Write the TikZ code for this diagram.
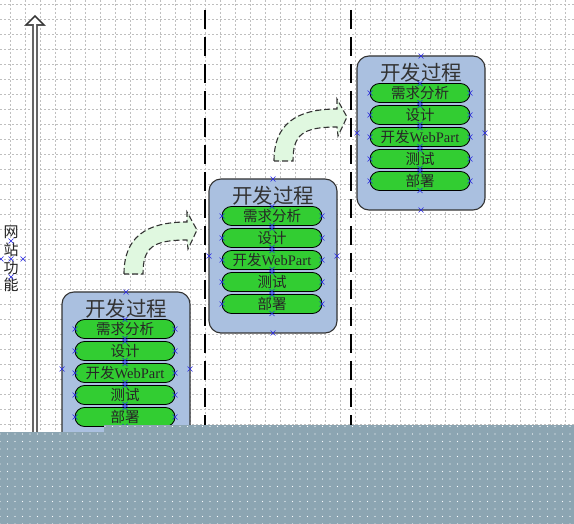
\documentclass[tikz,border=0pt]{standalone}
\usepackage{fontspec}
\setmainfont{Noto Sans CJK SC}
\newfontfamily\latin{Liberation Serif}
\usetikzlibrary{shapes.misc,patterns.meta}
\definecolor{boxc}{RGB}{170,192,224}
\definecolor{pillc}{RGB}{50,205,50}
\definecolor{bandc}{RGB}{140,165,178}
\definecolor{arrc}{RGB}{224,248,224}
\definecolor{mkc}{RGB}{40,40,230}
\tikzset{
  gridl/.style={gray!50, line width=0.5pt, dash pattern=on 2pt off 2pt},
  procbox/.style={draw=black!80, line width=1.1pt, fill=boxc, rounded corners=12pt,
    minimum width=128pt, minimum height=154pt, inner sep=0pt},
  ttl/.style={font=\fontsize{20.5}{20.5}\selectfont, text=black!80, inner sep=0pt},
  pill/.style={rounded rectangle, draw=black, line width=0.8pt, fill=pillc,
    minimum width=100pt, minimum height=19pt, inner sep=0pt,
    font=\fontsize{14.5}{14.5}\selectfont, text=black!85},
  sepline/.style={line width=2.6pt, black, dash pattern=on 19pt off 8pt},
  bendshape/.style={fill=arrc, draw=black!80, line width=1.1pt, dash pattern=on 6pt off 3pt},
  mk/.pic={\draw[mkc, line width=0.7pt] (-2.5pt,-2.5pt)--(2.5pt,2.5pt) (-2.5pt,2.5pt)--(2.5pt,-2.5pt);},
  bendarrow/.pic={\path[bendshape] (0,0) .. controls (0,-36) and (21,-52) .. (63,-52)
      -- (63,-62) -- (73,-44) -- (64,-25) -- (63,-34)
      .. controls (28,-34) and (19,-26) .. (19,0) -- cycle;}
}
\begin{document}
\begin{tikzpicture}[x=1pt,y=-1pt]
\useasboundingbox (0,0) rectangle (574,524);
\fill[white] (0,0) rectangle (574,524);
% grid
\foreach \x in {10,25,...,565} \draw[gridl] (\x,0) -- (\x,524);
\foreach \y in {4,19,...,520} \draw[gridl] (0,\y) -- (574,\y);
% vertical axis arrow
\path[draw=black!60, line width=1.6pt, fill=white] (33,440) -- (33,25) -- (26,25) -- (35,16) -- (44,25) -- (37,25) -- (37,440);
\path[draw=black!80, line width=0.8pt] (33,25) -- (26,25) -- (35,16) -- (44,25) -- (37,25);
\node[align=center, font=\fontsize{15}{17.7}\selectfont, text=black!85, inner sep=0pt] (axl) at (11,259) {网\\站\\功\\能};
% separators
\draw[sepline] (205,10) -- (205,440);
\draw[sepline] (351,10) -- (351,440);
% bent arrows
\pic at (124,274) {bendarrow};
\pic at (274,161) {bendarrow};
% process boxes
\foreach \i/\L/\T in {1/62/292, 2/209/179, 3/357/56}{
  \node[procbox] (b\i) at ({\L+64},{\T+77}) {};
  \node[ttl] (t\i) at ({\L+64},{\T+17}) {开发过程};
  \node[pill] (p\i a) at ({\L+63},{\T+37}) {需求分析};
  \node[pill] (p\i b) at ({\L+63},{\T+59}) {设计};
  \node[pill] (p\i c) at ({\L+63},{\T+81}) {开发{\latin WebPart}};
  \node[pill] (p\i d) at ({\L+63},{\T+103}) {测试};
  \node[pill] (p\i e) at ({\L+63},{\T+125}) {部署};
  \pic at ({\L+64},{\T}) {mk};
  \pic at ({\L+64},{\T+154}) {mk};
  \pic at ({\L},{\T+77}) {mk};
  \pic at ({\L+128},{\T+77}) {mk};
  \foreach \k in {0,...,4}{
    \pic at ({\L+13},{\T+37+22*\k}) {mk};
    \pic at ({\L+113},{\T+37+22*\k}) {mk};
    \pic at ({\L+63},{\T+27.5+22*\k}) {mk};
    \pic at ({\L+63},{\T+46.5+22*\k}) {mk};
  }
}
% label markers
\pic at (11,241) {mk};
\pic at (1,259) {mk};
\pic at (11,259) {mk};
\pic at (23,259) {mk};
\pic at (11,277) {mk};
% bottom band
\path[fill=bandc] (0,432) -- (104,432) -- (104,425) -- (574,425) -- (574,524) -- (0,524) -- cycle;
\path[pattern={Dots[distance=7.5pt, radius=0.6pt]}, pattern color=white] (0,432) -- (104,432) -- (104,425) -- (574,425) -- (574,524) -- (0,524) -- cycle;
\end{tikzpicture}
\end{document}
